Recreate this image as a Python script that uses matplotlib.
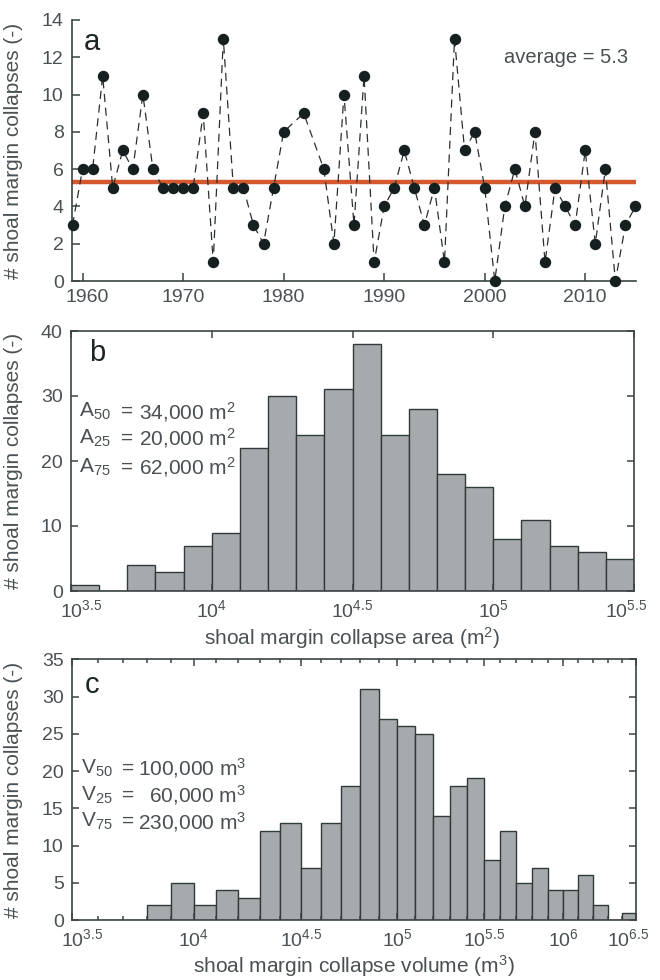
import numpy as np
import matplotlib
matplotlib.use("Agg")
import matplotlib.pyplot as plt
import matplotlib.transforms as mtrans
from matplotlib.ticker import NullFormatter, FixedLocator

plt.rcParams['font.family'] = ['Liberation Sans', 'DejaVu Sans']
plt.rcParams['mathtext.fontset'] = 'custom'
plt.rcParams['mathtext.rm'] = 'Liberation Sans'
plt.rcParams['mathtext.it'] = 'Liberation Sans'
plt.rcParams['mathtext.bf'] = 'Liberation Sans'

# ---------------- data ----------------
years = [1959, 1960, 1961, 1962, 1963, 1964, 1965, 1966, 1967, 1968, 1969, 1970,
         1971, 1972, 1973, 1974, 1975, 1976, 1977, 1978, 1979, 1980, 1982, 1984,
         1985, 1986, 1987, 1988, 1989, 1990, 1991, 1992, 1993, 1994, 1995, 1996,
         1997, 1998, 1999, 2000, 2001, 2002, 2003, 2004, 2005, 2006, 2007, 2008,
         2009, 2010, 2011, 2012, 2013, 2014, 2015]
collapses = [3, 6, 6, 11, 5, 7, 6, 10, 6, 5, 5, 5,
             5, 9, 1, 13, 5, 5, 3, 2, 5, 8, 9, 6,
             2, 10, 3, 11, 1, 4, 5, 7, 5, 3, 5, 1,
             13, 7, 8, 5, 0, 4, 6, 4, 8, 1, 5, 4,
             3, 7, 2, 6, 0, 3, 4]
average = 5.3

# panel b: log10(area) bins, width 0.1
area_bin_left = [3.5, 3.6, 3.7, 3.8, 3.9, 4.0, 4.1, 4.2, 4.3, 4.4,
                 4.5, 4.6, 4.7, 4.8, 4.9, 5.0, 5.1, 5.2, 5.3, 5.4]
area_counts = [1, 0, 4, 3, 7, 9, 22, 30, 24, 31,
               38, 24, 28, 18, 16, 8, 11, 7, 6, 5]
area_stats = [("A", "50", "34,000", "2"), ("A", "25", "20,000", "2"), ("A", "75", "62,000", "2")]

# panel c: log10(volume) bins, width 0.1
vol_bin_left = [3.6, 3.7, 3.8, 3.9, 4.0, 4.1, 4.2, 4.3, 4.4, 4.5,
                4.6, 4.7, 4.8, 4.9, 5.0, 5.1, 5.2, 5.3, 5.4, 5.5,
                5.6, 5.7, 5.8, 5.9, 6.0, 6.1, 6.2, 6.3, 6.4]
vol_counts = [0, 0, 2, 5, 2, 4, 3, 12, 13, 7,
              13, 18, 31, 27, 26, 25, 14, 18, 19, 8,
              12, 5, 7, 4, 4, 6, 2, 0, 1]
vol_stats = [("V", "50", "100,000", "3"), ("V", "25", "60,000", "3"), ("V", "75", "230,000", "3")]

bin_width = 0.1
log_ticks_b = [3.5, 4.0, 4.5, 5.0, 5.5]
log_ticks_c = [3.5, 4.0, 4.5, 5.0, 5.5, 6.0, 6.5]

# ---------------- style ----------------
AX = '#3b4345'
TXT = '#4a5053'
BAR = '#a6aaac'
BAREDGE = '#313a3b'
ORANGE = '#d6582e'
MARK = '#172021'

fig = plt.figure(figsize=(6.6, 9.8), dpi=100)

def style_axes(ax, box=True):
    for s in ax.spines.values():
        s.set_color(AX)
        s.set_linewidth(1.2)
    if not box:
        ax.spines['top'].set_visible(False)
        ax.spines['right'].set_visible(False)
    ax.tick_params(which='both', direction='in', colors=AX, labelcolor=TXT,
                   labelsize=14, width=1.1)
    ax.tick_params(which='major', length=5)
    ax.tick_params(which='minor', length=3)
    ax.tick_params(axis='y', pad=6)
    ax.tick_params(axis='x', pad=6)

def shift_label(lbl, dx_px):
    off = mtrans.ScaledTranslation(dx_px/100.0, 0, fig.dpi_scale_trans)
    lbl.set_transform(lbl.get_transform() + off)

# ---------------- panel a ----------------
axa = fig.add_axes([72/660, 1-281/980, 564/660, 261/980])
axa.plot(years, collapses, linestyle=(0, (6.5, 4.5)), color='#2a2f30', lw=0.9,
         marker='o', ms=7.2, mfc=MARK, mec=MARK, clip_on=False, zorder=3)
axa.axhline(average, color=ORANGE, lw=3.2, zorder=2)
axa.set_xlim(1958.95, 2015.05)
axa.set_ylim(0, 14)
axa.set_xticks([1960, 1970, 1980, 1990, 2000, 2010])
axa.set_yticks(range(0, 15, 2))
style_axes(axa, box=False)
axa.tick_params(which='major', length=6)
axa.set_ylabel('# shoal margin collapses (-)', fontsize=15, color=TXT)
axa.yaxis.set_label_coords(-0.087, 0.5)
axa.text(0.035, 0.915, 'a', transform=axa.transAxes, fontsize=21, color='#1e2526',
         ha='center', va='center')
axa.text(2014.3, 12.0, 'average = %.1f' % average, fontsize=14.5, color=TXT,
         ha='right', va='center')

# ---------------- panel b ----------------
axb = fig.add_axes([71/660, 1-591/980, 563/660, 260/980])
axb.bar(area_bin_left, area_counts, width=bin_width, align='edge', color=BAR,
        edgecolor=BAREDGE, linewidth=1.0)
axb.set_xlim(3.5, 5.5)
axb.set_ylim(0, 40)
axb.set_xticks(log_ticks_b)
axb.set_xticklabels(['$10^{%g}$' % t for t in log_ticks_b])
axb.set_yticks([0, 10, 20, 30, 40])
style_axes(axb)
axb.tick_params(top=True, right=True)
axb.set_ylabel('# shoal margin collapses (-)', fontsize=15, color=TXT)
axb.yaxis.set_label_coords(-0.086, 0.5)
axb.set_xlabel('shoal margin collapse area (m$^2$)', fontsize=15, color=TXT, labelpad=3)
axb.text(0.046, 0.915, 'b', transform=axb.transAxes, fontsize=21, color='#1e2526',
         ha='center', va='center')
ys_b = [411.7, 438.5, 467.5]
for (sym, sub, val, p), yp in zip(area_stats, ys_b):
    yfig = 1 - yp/980
    fig.text(79/660, yfig, r'%s$_{%s}$' % (sym, sub), fontsize=15, color=TXT, va='center', ha='left')
    fig.text(121/660, yfig, '=', fontsize=15, color=TXT, va='center', ha='left')
    fig.text(236/660, yfig, r'%s m$^{%s}$' % (val, p), fontsize=15, color=TXT, va='center', ha='right')

# ---------------- panel c ----------------
axc = fig.add_axes([72/660, 1-920/980, 564/660, 260.7/980])
axc.bar(vol_bin_left, vol_counts, width=bin_width, align='edge', color=BAR,
        edgecolor=BAREDGE, linewidth=1.0)
axc.set_xscale('log')
axc.set_xlim(3.5, 6.5)
axc.set_ylim(0, 35)
axc.xaxis.set_major_locator(FixedLocator(log_ticks_c))
axc.set_xticklabels(['$10^{%g}$' % t for t in log_ticks_c])
minor = [round(v, 1) for v in np.arange(3.6, 6.45, 0.1) if abs(v*2 - round(v*2)) > 1e-6]
axc.xaxis.set_minor_locator(FixedLocator(minor))
axc.xaxis.set_minor_formatter(NullFormatter())
axc.set_yticks(range(0, 36, 5))
style_axes(axc)
axc.tick_params(which='both', top=True, right=True)
axc.set_ylabel('# shoal margin collapses (-)', fontsize=15, color=TXT)
axc.yaxis.set_label_coords(-0.087, 0.5)
axc.set_xlabel('shoal margin collapse volume (m$^3$)', fontsize=15, color=TXT, labelpad=2)
axc.text(0.035, 0.9, 'c', transform=axc.transAxes, fontsize=21, color='#1e2526',
         ha='center', va='center')
ys_c = [768, 795, 821.7]
for (sym, sub, val, p), yp in zip(vol_stats, ys_c):
    yfig = 1 - yp/980
    fig.text(81/660, yfig, r'%s$_{%s}$' % (sym, sub), fontsize=15, color=TXT, va='center', ha='left')
    fig.text(122/660, yfig, '=', fontsize=15, color=TXT, va='center', ha='left')
    fig.text(246/660, yfig, r'%s m$^{%s}$' % (val, p), fontsize=15, color=TXT, va='center', ha='right')

# nudge edge tick labels inward, as in the reference
fig.canvas.draw()
shift_label(axa.get_xticklabels()[0], 5)
for ax in (axb, axc):
    labels = ax.get_xticklabels()
    shift_label(labels[0], 10)
    shift_label(labels[-1], -8)

fig.savefig('out.png', dpi=100)
